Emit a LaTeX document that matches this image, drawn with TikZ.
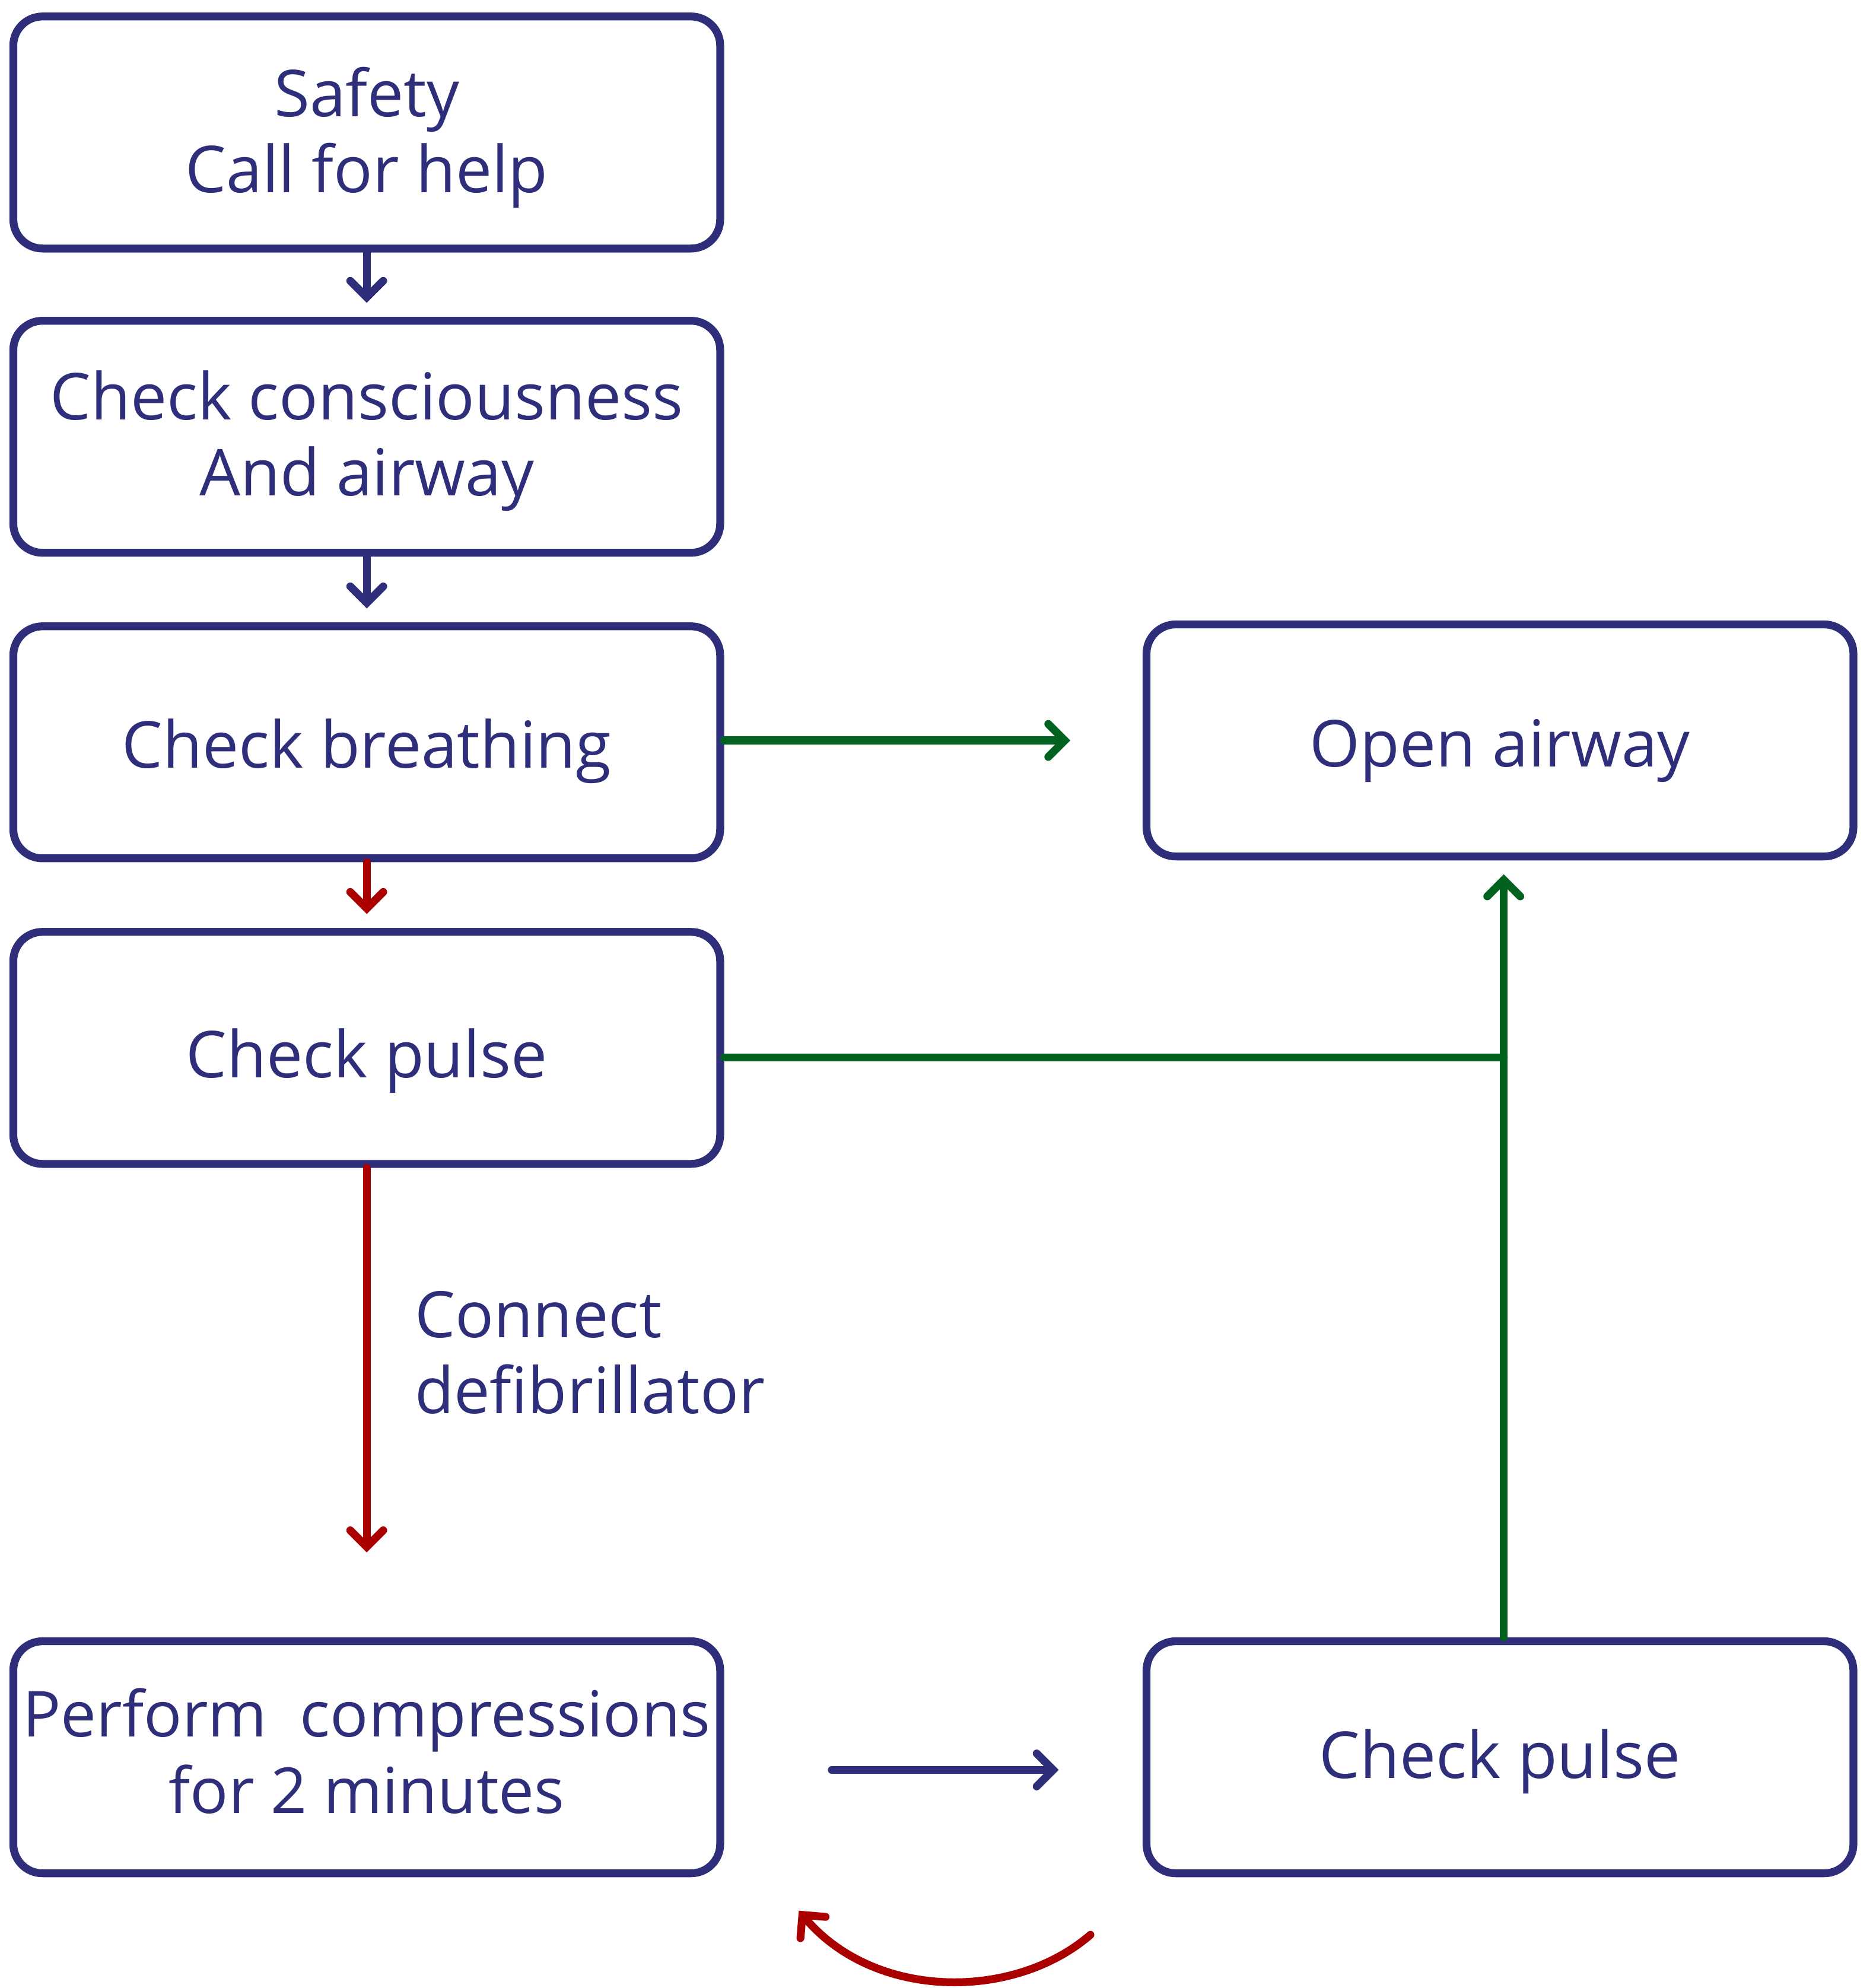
\documentclass[tikz,border=0pt]{standalone}
\usepackage{fontspec}
\setmainfont{Open Sans}
\usetikzlibrary{arrows.meta}
\definecolor{navy}{RGB}{46,46,123}
\definecolor{dgreen}{RGB}{0,98,30}
\definecolor{dred}{RGB}{170,0,0}
\newcommand{\twoc}[2]{\begin{tabular}[b]{@{}c@{}}#1\\#2\end{tabular}}
\newcommand{\twol}[2]{\begin{tabular}[b]{@{}l@{}}#1\\#2\end{tabular}}
\begin{document}
\begin{tikzpicture}[x=1pt,y=-1pt,
  box/.style={draw=navy, line width=6.2pt, rounded corners=23pt,
    minimum width=557.5pt, minimum height=183pt, inner sep=0pt,
    text depth=0pt, text=navy, font=\fontsize{51}{60}\selectfont},
  lbl/.style={text=navy, inner sep=0pt, font=\fontsize{50.5}{60}\selectfont},
  conn/.style={line width=6.2pt, line cap=round,
    -{Straight Barb[length=13pt,width=26pt,line cap=round,line join=miter]}},
  wire/.style={line width=6.2pt, line cap=round},
]
\useasboundingbox (0,0) rectangle (1477.2,1568);
% left column
\node[box, text height=95pt] (b1) at (289.25,104.5) {\twoc{Safety}{Call for help}};
\node[box, text height=93pt] (b2) at (289.25,344.5) {\twoc{Check consciousness}{And airway}};
\node[box, text height=40pt] (b3) at (289.25,585.5) {Check breathing};
\node[box, text height=47pt] (b4) at (289.25,826.5) {Check pulse};
\node[box, text height=88pt, font=\fontsize{50}{60}\selectfont] (b5) at (289.25,1386) {\twoc{Perform\ \ compressions}{for 2 minutes}};
% right column
\node[box, text height=42pt] (oa) at (1183,584) {Open airway};
\node[box, text height=33pt] (cp) at (1183,1386) {Check pulse};
% label
\node[lbl, anchor=base west] (lab) at (327,1115) {\twol{Connect}{defibrillator}};
% helper coordinates
\coordinate (j) at (1186,834);
\coordinate (ba) at (656,1396);
\coordinate (bb) at (835,1396);
\coordinate (ra) at (860,1526);
\coordinate (rb) at (630,1507);
% connectors
\draw[conn, navy] (b1.south) -- ([yshift=11pt]b2.north);
\draw[conn, navy] (b2.south) -- ([yshift=11pt]b3.north);
\draw[conn, dred] (b3.south) -- ([yshift=11pt]b4.north);
\draw[conn, dred] (b4.south) -- ([yshift=67pt]b5.north);
\draw[conn, dgreen] (b3.east |- oa.center) -- ([xshift=-57pt]oa.west);
\draw[wire, dgreen] (b4.east |- j) -- (j);
\draw[conn, dgreen] (cp.north -| j) -- ([yshift=-11pt]oa.south -| j);
\draw[conn, navy] (ba) -- (bb);
\draw[conn, dred] (ra) .. controls (800,1578) and (690,1578) .. (rb);
\end{tikzpicture}
\end{document}
